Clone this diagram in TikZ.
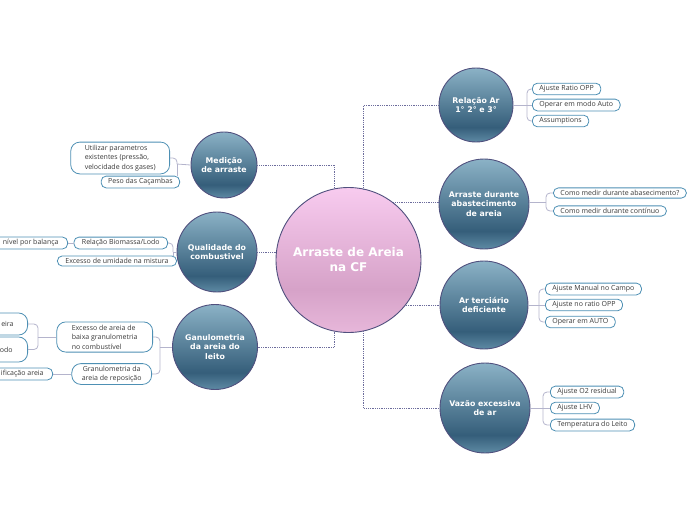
\documentclass[tikz,border=0pt]{standalone}
\usepackage{fontspec}
\setmainfont{Open Sans}
\newfontfamily\bubfont{DejaVu Sans}
\usetikzlibrary{calc}
\definecolor{boxline}{HTML}{4E90B4}
\definecolor{txt}{HTML}{3A3A3A}
\definecolor{linkc}{HTML}{6C6C9C}
\definecolor{brkc}{HTML}{B4B4CC}
\definecolor{cborder}{HTML}{50507E}
\definecolor{tbot}{HTML}{5A86A0}
\definecolor{tdark}{HTML}{355E7A}
\definecolor{ttop}{HTML}{8BB2C6}
\definecolor{pbot}{HTML}{E7B7DA}
\definecolor{pdark}{HTML}{D6A2C8}
\definecolor{ptop}{HTML}{F8CBEF}
\pgfdeclareverticalshading{tealsh}{100bp}{color(0bp)=(tbot); color(26bp)=(tbot); color(35bp)=(tdark); color(75bp)=(ttop); color(100bp)=(ttop)}
\pgfdeclareverticalshading{pinksh}{100bp}{color(0bp)=(pbot); color(25bp)=(pbot); color(40bp)=(pdark); color(75bp)=(ptop); color(100bp)=(ptop)}
\tikzset{
  bub/.style={circle, draw=cborder, line width=0.9pt, shading=tealsh, inner sep=0pt, align=center, text=white,
    font=\bubfont\bfseries\fontsize{7.8}{9.5}\selectfont},
  cbox/.style={draw=boxline, line width=0.8pt, rounded corners=5pt, fill=white, text=txt,
    font=\fontsize{7}{9.4}\selectfont, inner xsep=7pt, inner ysep=2.4pt},
  mbox/.style={cbox, rounded corners=9pt, inner ysep=3pt},
  link/.style={draw=linkc, densely dotted, line width=0.8pt},
  brk/.style={draw=brkc, line width=0.8pt, rounded corners=4pt},
}
\begin{document}
\begin{tikzpicture}[x=1pt,y=-1pt]
\useasboundingbox (0,0) rectangle (696,520);
% central
\node[bub, shading=pinksh, minimum size=145pt, font=\bubfont\bfseries\fontsize{12}{15}\selectfont] (C) at (348.5,260) {Arraste de Areia\\na CF};
% main topics
\node[bub, minimum size=66pt] (L1) at (224,165) {Medição\\de arraste};
\node[bub, minimum size=80pt] (L2) at (217,252) {Qualidade do\\combustivel};
\node[bub, minimum size=85pt] (L3) at (215,347) {Ganulometria\\da areia do\\leito};
\node[bub, minimum size=74pt] (R1) at (476,105) {Relação Ar\\1° 2° e 3°};
\node[bub, minimum size=90pt] (R2) at (484,204) {Arraste durante\\abastecimento\\de areia};
\node[bub, minimum size=88pt] (R3) at (484,305) {Ar terciário\\deficiente};
\node[bub, minimum size=90pt] (R4) at (485,408) {Vazão excessiva\\de ar};
% links from center
\draw[link] (L1.east) -| (C.101);
\draw[link] (R1.west) -| (C.78);
\draw[link] (C.52) -- (C.52 -| R2.west);
\draw[link] (L2.east) -- (C.west |- L2.east);
\draw[link] (C.-101) |- (L3.east);
\draw[link] (C.-38) -- (C.-38 -| R3.west);
\draw[link] (C.-78) |- (R4.west);
% R1 children
\node[cbox, anchor=west] (R1a) at (532,89) {Ajuste Ratio OPP};
\node[cbox, anchor=west] (R1b) at (532,105) {Operar em modo Auto};
\node[cbox, anchor=west] (R1c) at (532,121) {Assumptions};
\coordinate (r1k) at (527,105);
\draw[brk] (R1.east) -- (R1b.west);
\draw[brk] (r1k) |- (R1a.west);
\draw[brk] (r1k) |- (R1c.west);
% R2 children
\node[cbox, anchor=west] (R2a) at (553,193) {Como medir durante abasecimento?};
\node[cbox, anchor=west] (R2b) at (553,211) {Como medir durante contínuo};
\coordinate (r2k) at (546,202);
\draw[brk] (R2.east |- r2k) -- (r2k);
\draw[brk] (r2k) |- (R2a.west);
\draw[brk] (r2k) |- (R2b.west);
% R3 children
\node[cbox, anchor=west] (R3a) at (545,289) {Ajuste Manual no Campo};
\node[cbox, anchor=west] (R3b) at (545,305) {Ajuste no ratio OPP};
\node[cbox, anchor=west] (R3c) at (545,322) {Operar em AUTO};
\coordinate (r3k) at (539,305);
\draw[brk] (R3.east) -- (R3b.west);
\draw[brk] (r3k) |- (R3a.west);
\draw[brk] (r3k) |- (R3c.west);
% R4 children
\node[cbox, anchor=west] (R4a) at (550,392) {Ajuste O2 residual};
\node[cbox, anchor=west] (R4b) at (550,408) {Ajuste LHV};
\node[cbox, anchor=west] (R4c) at (550,425) {Temperatura do Leito};
\coordinate (r4k) at (543,408);
\draw[brk] (R4.east) -- (R4b.west);
\draw[brk] (r4k) |- (R4a.west);
\draw[brk] (r4k) |- (R4c.west);
% L1 children
\node[mbox, anchor=east, align=left, inner xsep=14pt] (L1a) at (170,158) {Utilizar parametros\\existentes (pressão,\\velocidade dos gases)};
\node[cbox, anchor=east] (L1b) at (180,182) {Peso das Caçambas};
\coordinate (l1k) at (177,164);
\draw[brk] (L1.west) -- (l1k);
\draw[brk] (l1k) |- (L1a.east);
\draw[brk] (l1k) -- (l1k |- L1b.north);
% L2 children
\node[cbox, anchor=east, inner xsep=8pt] (L2a) at (168,243) {Relação Biomassa/Lodo};
\node[cbox, anchor=east, inner xsep=8pt] (L2b) at (177,261) {Excesso de umidade na mistura};
\coordinate (l2k) at (173,252);
\draw[brk] (L2.west) -- (l2k);
\draw[brk] (l2k) |- (L2a.east);
\draw[brk] (l2k) -- (l2k |- L2b.north);
\node[cbox, anchor=east, inner xsep=9pt] (L2a1) at (68,243) {nível por balança};
\draw[brk] (L2a.west) -- (L2a1.east);
% L3 children
\node[mbox, anchor=east, align=left, inner xsep=15pt] (L3a) at (153,337) {Excesso de areia de\\baixa granulometria\\no combustível};
\node[mbox, anchor=east, align=center, inner xsep=10pt, inner ysep=2.2pt] (L3b) at (152,374) {Granulometria da\\areia de reposição};
\coordinate (l3k) at (160,347);
\draw[brk] (L3.west) -- (l3k);
\draw[brk] (l3k) |- (L3a.east);
\draw[brk] (l3k) |- (L3b.east);
\node[cbox, anchor=east, rounded corners=9pt, minimum height=22pt, text width=40pt, align=right] (L3a1) at (28,324) {eira\hspace*{7pt}};
\node[cbox, anchor=east, rounded corners=9pt, minimum height=25pt, text width=40pt, align=right] (L3a2) at (28,349.5) {odo\hspace*{8pt}};
\coordinate (l3ak) at (38,337);
\draw[brk] (L3a.west) -- (l3ak);
\draw[brk] (l3ak) |- (L3a1.east);
\draw[brk] (l3ak) |- (L3a2.east);
\node[cbox, anchor=east, inner xsep=9pt] (L3b1) at (53,374) {ificação areia};
\draw[brk] (L3b.west) -- (L3b1.east);
\end{tikzpicture}
\end{document}
